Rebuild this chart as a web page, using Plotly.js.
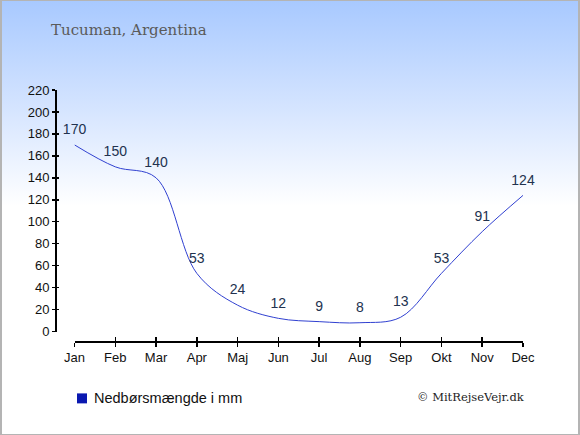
<!DOCTYPE html>
<html>
<head>
<meta charset="utf-8">
<script src="https://cdn.plot.ly/plotly-3.0.1.min.js"></script>
<style>
html,body{margin:0;padding:0;}
body{width:580px;height:435px;overflow:hidden;}
#wrap{position:absolute;left:0;top:0;width:576px;height:433px;border-left:2px solid #b4b4b4;border-right:2px solid #b4b4b4;border-top:1px solid #b4b4b4;border-bottom:1px solid #b4b4b4;
background:linear-gradient(to bottom,#a8c9ff 0px,#d6e5ff 110px,#ffffff 205px,#ffffff 100%);}
#chart{position:absolute;left:-2px;top:-1px;width:580px;height:435px;}
</style>
</head>
<body>
<div id="wrap"><div id="chart"></div></div>
<script>
const months = ["Jan","Feb","Mar","Apr","Maj","Jun","Jul","Aug","Sep","Okt","Nov","Dec"];
const precipitation = [170,150,140,53,24,12,9,8,13,53,91,124];
const yTicks = [0,20,40,60,80,100,120,140,160,180,200,220];
const seriesName = "Nedbørsmængde i mm";
const titleText = "Tucuman, Argentina";
const creditText = "© MitRejseVejr.dk";

const trace = {
  x: months,
  y: precipitation,
  type: "scatter",
  mode: "lines+markers+text",
  text: precipitation.map(String),
  textposition: "top center",
  textfont: {family: "Liberation Sans, Arial, sans-serif", size: 14, color: "#22324f"},
  marker: {size: 10, color: "rgba(0,0,0,0)", line: {width: 0}},
  line: {color: "#3040d0", width: 1, shape: "spline", smoothing: 1},
  showlegend: false,
  cliponaxis: false,
  hoverinfo: "skip"
};

const tickFont = {family: "Liberation Sans, Arial, sans-serif", size: 13, color: "#111"};

const layout = {
  width: 580, height: 435,
  margin: {l: 55, r: 57, t: 90, b: 93.5, pad: 0},
  paper_bgcolor: "rgba(0,0,0,0)",
  plot_bgcolor: "rgba(0,0,0,0)",
  title: {text: titleText, x: 51/580, xref: "container", xanchor: "left",
          y: 1 - 30/435, yref: "container", yanchor: "middle",
          font: {family: "DejaVu Serif, serif", size: 15, color: "#5a5a5a"}},
  xaxis: {
    domain: [0.0417, 1], type: "category", range: [0, 11],
    anchor: "free", position: 0,
    showline: true, linecolor: "#000", linewidth: 1.5,
    ticks: "outside", ticklen: 4, tickcolor: "#000", tickwidth: 1.5,
    showgrid: false, zeroline: false, tickfont: tickFont, fixedrange: true
  },
  xaxis2: {
    overlaying: "x", type: "category", range: [0, 11], anchor: "free", position: 0,
    ticks: "inside", ticklen: 4, tickcolor: "#000", tickwidth: 1.5,
    showticklabels: false, showline: false, showgrid: false, zeroline: false,
    tickvals: months
  },
  yaxis: {
    domain: [0.0378, 1], range: [0, 220],
    anchor: "free", position: 0,
    tickvals: yTicks, ticktext: yTicks.map(String),
    showline: true, linecolor: "#000", linewidth: 1.5,
    ticks: "outside", ticklen: 3, tickcolor: "#000", tickwidth: 1.5,
    showgrid: false, zeroline: false, tickfont: tickFont, fixedrange: true
  },
  yaxis2: {
    overlaying: "y", range: [0, 220], anchor: "free", position: 0,
    tickvals: yTicks, ticks: "inside", ticklen: 3, tickcolor: "#000", tickwidth: 1.5,
    showticklabels: false, showline: false, showgrid: false, zeroline: false
  },
  shapes: [
    {type: "rect", xref: "paper", yref: "paper",
     x0: (77-55)/468, x1: (87-55)/468,
     y0: (341.5-394)/251.5, y1: (341.5-404)/251.5,
     fillcolor: "#0a18b0", line: {width: 0}}
  ],
  annotations: [
    {text: seriesName, xref: "paper", yref: "paper",
     x: (92-55)/468, y: (341.5-398.5)/251.5, xanchor: "left", yanchor: "middle",
     showarrow: false, font: {family: "Liberation Sans, Arial, sans-serif", size: 14.5, color: "#111"}},
    {text: creditText, xref: "paper", yref: "paper",
     x: (527-55)/468, y: (341.5-398)/251.5, xanchor: "right", yanchor: "middle",
     showarrow: false, font: {family: "DejaVu Serif, serif", size: 11.5, color: "#222"}}
  ]
};

const dummy = {x: months, y: precipitation, xaxis: "x2", yaxis: "y2", type: "scatter", mode: "none", showlegend: false, hoverinfo: "skip"};

Plotly.newPlot("chart", [trace, dummy], layout, {staticPlot: true, displayModeBar: false});
</script>
</body>
</html>
